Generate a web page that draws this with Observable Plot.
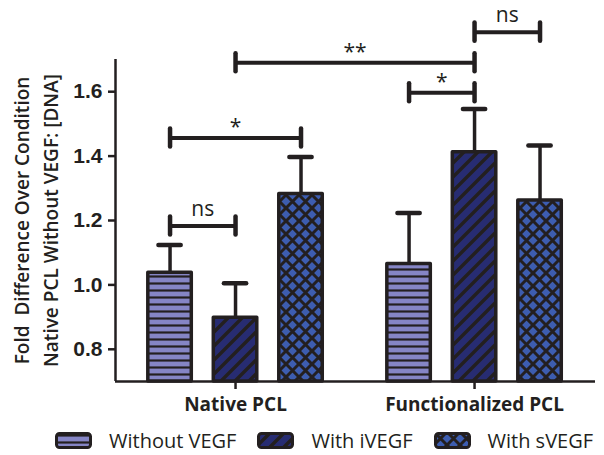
<!DOCTYPE html>
<html>
<head>
<meta charset="utf-8">
<script src="https://cdn.jsdelivr.net/npm/d3@7"></script>
<script src="https://cdn.jsdelivr.net/npm/@observablehq/plot@0.6"></script>
<style>
  body { margin: 0; background: #fff; width: 604px; height: 455px; overflow: hidden; font-family: "Open Sans", sans-serif; color: #231f20; }
  #legend { display: flex; align-items: center; height: 30px; margin-left: 55px; font-size: 20px; white-space: nowrap; width: 560px; }
  .item { display: flex; align-items: center; margin-right: 21px; flex-shrink: 0; }
  .item svg { margin-right: 17px; flex-shrink: 0; }
</style>
</head>
<body>
<svg width="0" height="0" style="position:absolute">
  <defs>
    <pattern id="fill-without" patternUnits="userSpaceOnUse" width="8" height="7">
      <rect width="8" height="7" fill="#8585c5"/>
      <line x1="0" x2="8" y1="3.5" y2="3.5" stroke="#231f20" stroke-width="2.2"/>
    </pattern>
    <pattern id="fill-ivegf" patternUnits="userSpaceOnUse" width="14" height="14">
      <rect width="14" height="14" fill="#272c72"/>
      <path d="M0,14L14,0M-3,3L3,-3M11,17L17,11" stroke="#231f20" stroke-width="3.5"/>
    </pattern>
    <pattern id="fill-svegf" patternUnits="userSpaceOnUse" width="13" height="13">
      <rect width="13" height="13" fill="#3d5db0"/>
      <path d="M-1,-1L14,14M-1,14L14,-1" stroke="#231f20" stroke-width="3"/>
    </pattern>
  </defs>
</svg>
<div id="chart"></div>
<div id="legend"></div>
<script>
const groups = ["Native PCL", "Functionalized PCL"];
const conditions = ["Without VEGF", "With iVEGF", "With sVEGF"];
const nativeMean = [1.038, 0.898, 1.282];
const nativeSem = [0.086, 0.107, 0.115];
const functionalizedMean = [1.065, 1.412, 1.262];
const functionalizedSem = [0.158, 0.134, 0.171];
const yTicks = [0.8, 1.0, 1.2, 1.4, 1.6];

// significance brackets: [group, condition] endpoints, bracket height, label
const bracketFrom = [[0, 0], [0, 0], [0, 1], [1, 0], [1, 1]];
const bracketTo = [[0, 1], [0, 2], [1, 1], [1, 1], [1, 2]];
const bracketLevel = [1.183, 1.456, 1.69, 1.597, 1.785];
const bracketLabel = ["ns", "*", "**", "*", "ns"];

const yTitle = "Fold  Difference Over Condition\nNative PCL Without VEGF: [DNA]";

const DARK = "#231f20";
const patternIds = ["fill-without", "fill-ivegf", "fill-svegf"];
const GROUP_STEP = 3.65;      // distance between group centres, in bar steps
const BAR_HALF = 0.332;       // half bar width
const CAP_HALF = 0.17;        // half error-cap width
const END_HALF = 0.028;       // half height of bracket end ticks
const X_DOMAIN = [-1.833, 5.497];
const Y_DOMAIN = [0.7, 1.7];

const pos = ([g, c]) => g * GROUP_STEP + (c - 1);
const means = [nativeMean, functionalizedMean];
const sems = [nativeSem, functionalizedSem];

const rows = groups.flatMap((group, gi) => conditions.map((condition, ci) => ({
  group, condition, ci,
  x: pos([gi, ci]),
  mean: means[gi][ci],
  top: means[gi][ci] + sems[gi][ci]
})));

const brackets = bracketLabel.map((label, i) => ({
  label,
  x1: pos(bracketFrom[i]),
  x2: pos(bracketTo[i]),
  y: bracketLevel[i]
}));

const groupCenters = groups.map((g, gi) => gi * GROUP_STEP);

const chart = Plot.plot({
  width: 604,
  height: 425,
  marginLeft: 115,
  marginRight: 9,
  marginTop: 59,
  marginBottom: 44,
  style: { fontFamily: "Open Sans", color: DARK, background: "white" },
  x: { domain: X_DOMAIN, axis: null },
  y: { domain: Y_DOMAIN, axis: null },
  marks: [
    // error bars (upper SEM)
    Plot.ruleX(rows, { x: "x", y1: "mean", y2: "top", stroke: DARK, strokeWidth: 3.5 }),
    Plot.ruleY(rows, { y: "top", x1: d => d.x - CAP_HALF, x2: d => d.x + CAP_HALF, stroke: DARK, strokeWidth: 4.5, strokeLinecap: "round" }),
    // patterned bars, one mark per condition
    ...conditions.map((c, ci) => Plot.rect(rows.filter(d => d.ci === ci), {
      x1: d => d.x - BAR_HALF,
      x2: d => d.x + BAR_HALF,
      y1: Y_DOMAIN[0],
      y2: "mean",
      fill: `url(#${patternIds[ci]})`,
      stroke: DARK,
      strokeWidth: 3.5,
      strokeLinejoin: "round"
    })),
    // axis lines
    Plot.ruleX([X_DOMAIN[0]], { stroke: DARK, strokeWidth: 2.5 }),
    Plot.ruleY([Y_DOMAIN[0]], { stroke: DARK, strokeWidth: 2.5 }),
    Plot.axisY(yTicks, {
      tickSize: 7, tickPadding: 6, strokeWidth: 2.5, stroke: DARK,
      tickFormat: d3.format(".1f"), fontSize: 21, fontWeight: "bold",
      fontFamily: "Liberation Sans", label: null
    }),
    Plot.axisX(groupCenters, {
      tickSize: 8, tickPadding: 8, strokeWidth: 2.5, stroke: DARK,
      tickFormat: d => groups[groupCenters.indexOf(d)],
      fontSize: 19, fontWeight: "bold", label: null
    }),
    // significance brackets
    Plot.ruleY(brackets, { y: "y", x1: "x1", x2: "x2", stroke: DARK, strokeWidth: 4 }),
    Plot.ruleX(brackets, { x: "x1", y1: d => d.y - END_HALF, y2: d => d.y + END_HALF, stroke: DARK, strokeWidth: 4.5, strokeLinecap: "round" }),
    Plot.ruleX(brackets, { x: "x2", y1: d => d.y - END_HALF, y2: d => d.y + END_HALF, stroke: DARK, strokeWidth: 4.5, strokeLinecap: "round" }),
    Plot.text(brackets.filter(d => d.label === "ns"), {
      x: d => (d.x1 + d.x2) / 2, y: "y", text: "label",
      lineAnchor: "bottom", dy: -10, fontSize: 21, fill: DARK
    }),
    Plot.text(brackets.filter(d => d.label !== "ns"), {
      x: d => (d.x1 + d.x2) / 2, y: "y", text: "label",
      lineAnchor: "bottom", dy: -4, fontSize: 21, fill: DARK
    }),
    // y-axis title
    Plot.text([yTitle], {
      frameAnchor: "left", dx: -81.5, rotate: -90, text: d => d,
      textAnchor: "middle", lineAnchor: "middle",
      lineHeight: 1.53, fontSize: 19, fontWeight: 600, fill: DARK
    })
  ]
});
document.getElementById("chart").append(chart);

// legend with patterned swatches
const legend = d3.select("#legend");
conditions.forEach((c, ci) => {
  const item = legend.append("div").attr("class", "item");
  const sw = item.append("svg").attr("width", 37).attr("height", 17);
  sw.append("rect").attr("x", 1.5).attr("y", 1.5).attr("width", 34).attr("height", 14)
    .attr("rx", 3).attr("fill", `url(#${patternIds[ci]})`)
    .attr("stroke", DARK).attr("stroke-width", 3);
  item.append("span").text(c);
});
</script>
</body>
</html>
